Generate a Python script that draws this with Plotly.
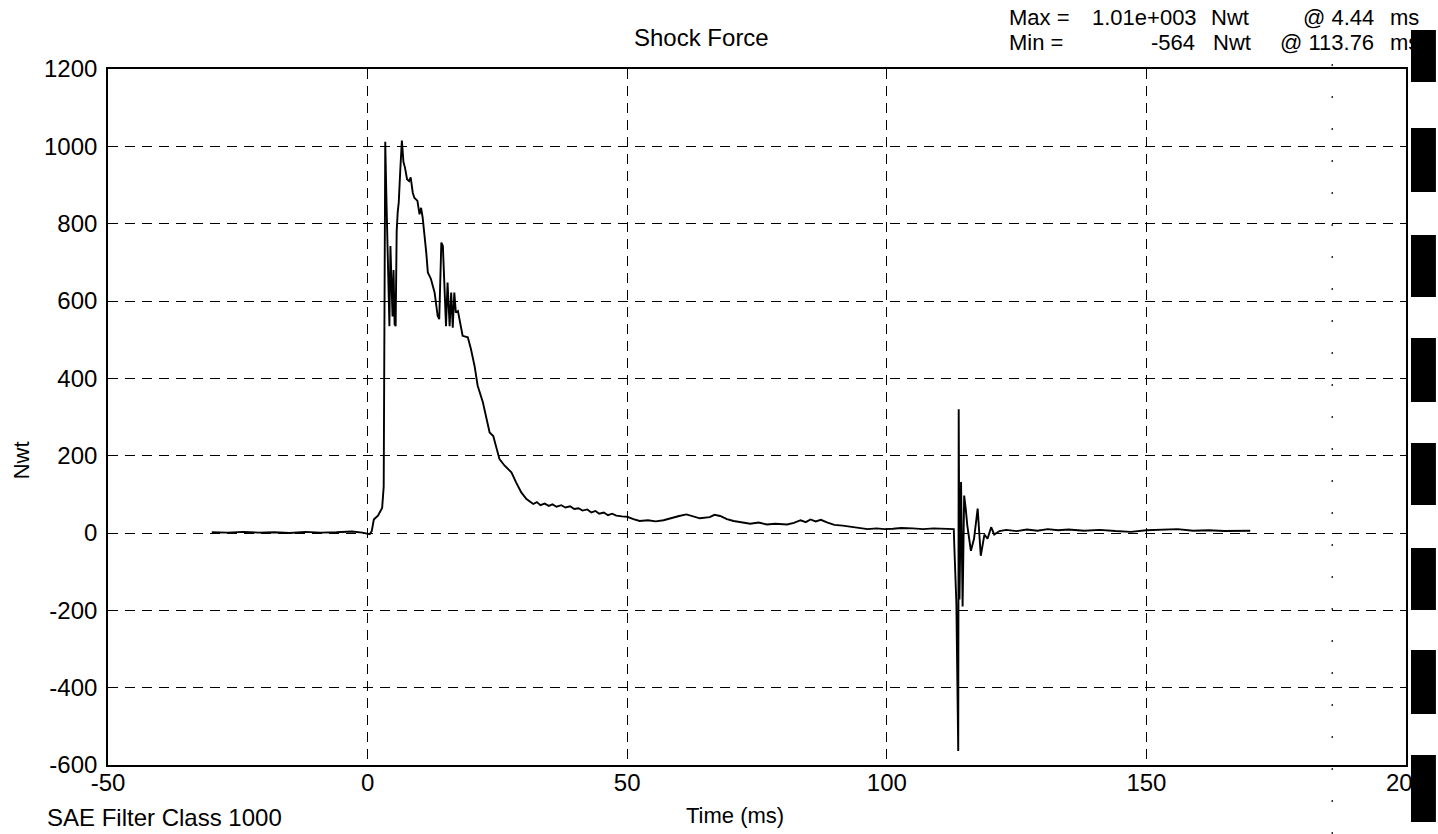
import plotly.graph_objects as go

# ---------------- data ----------------
pre_t = [-30, -27, -24, -21, -18, -15, -12, -9, -6, -3, -1, 0, 0.4]
pre_f = [2, 1, 3, 1, 2, 0, 3, 1, 2, 4, 1, -2, -3]

imp_t = [0.8, 1.2, 1.6, 2.0, 2.4, 2.8, 3.1, 3.4, 3.6, 3.8, 4.0, 4.2, 4.4, 4.6, 4.8, 5.0,
         5.2, 5.4, 5.6, 5.8, 6.0, 6.3, 6.6, 6.9, 7.2, 7.6, 8.0, 8.3, 8.7, 9.0, 9.3, 9.6,
         10.0, 10.3, 10.6, 11.0, 11.3, 11.6, 12.2, 12.9, 13.5, 13.8, 14.0, 14.2, 14.5,
         14.8, 15.1, 15.4, 15.8, 16.1, 16.4, 16.7, 17.0, 17.4, 17.7]
imp_f = [5, 35, 40, 45, 55, 65, 120, 1012, 880, 730, 600, 535, 742, 640, 560, 680,
         540, 535, 780, 830, 855, 940, 1015, 960, 945, 915, 910, 920, 880, 867, 862, 859,
         824, 841, 816, 770, 725, 674, 657, 622, 561, 553, 650, 751, 742,
         639, 535, 648, 535, 622, 531, 622, 570, 574, 553]

dec_t = [18.3, 19.3, 19.9, 20.6, 21.2, 22.2, 22.8, 23.5, 24.2, 24.8, 25.4, 26.4, 27.7,
         28.6, 29.6, 30.6, 31.3, 31.9, 32.6, 33.3, 34.1, 34.9, 35.6, 36.4, 37.3, 38.1,
         39.0, 39.8, 40.6, 41.4, 42.3, 43.1, 43.9, 44.6, 45.5, 46.3, 47.1, 47.9, 49.0, 50.0]
dec_f = [510, 506, 476, 432, 381, 338, 303, 260, 251, 217, 191, 174, 157,
         131, 105, 88, 82, 75, 80, 72, 76, 70, 74, 68, 72, 66,
         69, 62, 64, 58, 61, 53, 57, 50, 53, 46, 50, 45, 43, 42]

tail_t = [51.2, 52.4, 54.0, 55.5, 57.0, 58.8, 60.0, 61.4, 62.7, 64.0, 65.9, 66.8, 67.9,
          69.2, 70.5, 72.0, 73.7, 75.3, 76.9, 78.5, 80.8, 82.1, 83.4, 84.4, 85.3, 86.3,
          87.3, 88.6, 89.9, 91.5, 93.1, 94.7, 96.3, 98.0, 99.6, 101.2, 102.8, 105.0,
          107.0, 109.0, 111.0, 112.8]
tail_f = [36, 31, 33, 30, 33, 40, 44, 48, 43, 38, 41, 47, 44,
          36, 31, 28, 24, 27, 22, 24, 22, 26, 33, 28, 35, 30,
          34, 27, 21, 19, 16, 14, 10, 12, 10, 11, 13, 12,
          10, 12, 11, 10]

reb_t = [112.9, 113.0, 113.4, 113.76, 113.85, 114.0, 114.3, 114.6, 114.9, 115.2,
         115.5, 116.2, 116.8, 117.5, 118.1, 118.8, 119.4, 120.1, 120.7, 121.7]
reb_f = [10, -33, -181, -564, 320, -172, 132, -190, 97, 63,
         20, -46, -15, 63, -59, -4, -15, 15, -4, 5]

end_t = [123, 125, 127, 129, 131, 133, 135, 138, 141, 144, 147, 150, 153, 156, 159,
         162, 165, 168, 170]
end_f = [8, 5, 9, 6, 10, 7, 9, 6, 8, 5, 3, 7, 8, 10, 6, 7, 5, 6, 6]

x_ticks = [-50, 0, 50, 100, 150, 200]
y_ticks = [-600, -400, -200, 0, 200, 400, 600, 800, 1000, 1200]

title_text = "Shock Force"
x_title = "Time (ms)"
y_title = "Nwt"
footer = "SAE Filter Class 1000"
max_val, max_at = "1.01e+003", "@ 4.44"
min_val, min_at = "-564", "@ 113.76"
unit = "Nwt"

time_ms = pre_t + imp_t + dec_t + tail_t + reb_t + end_t
force = pre_f + imp_f + dec_f + tail_f + reb_f + end_f

# ---------------- layout geometry ----------------
W, H = 1438, 834
L, R, T, B = 108, 1410, 69, 765
FONT = "Liberation Sans, Arial, Helvetica, sans-serif"


def px(x):
    return (x - L) / (R - L)


def py(y):
    return (B - y) / (B - T)


fig = go.Figure()
fig.add_trace(go.Scatter(x=time_ms, y=force, mode="lines",
                         line=dict(color="black", width=1.9),
                         hoverinfo="x+y", showlegend=False))

axis_common = dict(showline=True, linecolor="black", linewidth=1.6, mirror=True,
                   showgrid=True, gridcolor="black", gridwidth=1.3,
                   griddash="10px,7px", zeroline=False, ticks="",
                   tickfont=dict(family=FONT, size=24, color="black"))

fig.update_xaxes(range=[-50, 200], tickvals=x_ticks,
                 ticktext=[str(v) for v in x_ticks], ticklabelstandoff=-5,
                 **axis_common)
fig.update_yaxes(range=[-600, 1200], tickvals=y_ticks,
                 ticktext=[str(v) for v in y_ticks], ticklabelstandoff=4,
                 **axis_common)

ann = []


def text(s, x, y, size, xanchor="center", angle=0):
    ann.append(dict(text=s, x=px(x), y=py(y), xref="paper", yref="paper",
                    xanchor=xanchor, yanchor="middle", showarrow=False,
                    textangle=angle,
                    font=dict(family=FONT, size=size, color="black")))


text(title_text, 703, 37, 24)
text(x_title, 737, 815, 22)
text(y_title, 21, 460, 22, angle=-90)
text(footer, 45, 817, 24, xanchor="left")

text("Max =", 1010, 18, 22, xanchor="left")
text(max_val, 1202, 18, 22, xanchor="right")
text(unit, 1212, 18, 22, xanchor="left")
text(max_at, 1380, 18, 22, xanchor="right")
text("ms", 1392, 18, 22, xanchor="left")
text("Min =", 1010, 42, 22, xanchor="left")
text(min_val, 1200, 42, 22, xanchor="right")
text(unit, 1214, 42, 22, xanchor="left")
text(min_at, 1380, 42, 22, xanchor="right")
text("ms", 1392, 42, 22, xanchor="left")

# scan artefacts: binder-hole marks on the right edge and a faint dotted line
shapes = []
for y0, y1 in [(30, 82), (128, 192), (235, 297), (338, 402), (443, 505),
               (548, 610), (650, 714), (755, 822)]:
    shapes.append(dict(type="rect", xref="paper", yref="paper",
                       x0=px(1415), x1=px(1440), y0=py(y1), y1=py(y0),
                       fillcolor="black", line=dict(width=0), layer="above"))
shapes.append(dict(type="line", xref="paper", yref="paper",
                   x0=px(1336), x1=px(1336), y0=py(834), y1=py(60),
                   line=dict(color="black", width=1.2, dash="2px,30px"), layer="above"))

fig.update_layout(width=W, height=H, autosize=False,
                  margin=dict(l=L, r=W - R, t=T, b=H - B, pad=0),
                  paper_bgcolor="white", plot_bgcolor="white",
                  annotations=ann, shapes=shapes,
                  font=dict(family=FONT, color="black"))

fig.write_html("out.html", config={"displayModeBar": False},
               post_script="document.body.style.margin='0';")
